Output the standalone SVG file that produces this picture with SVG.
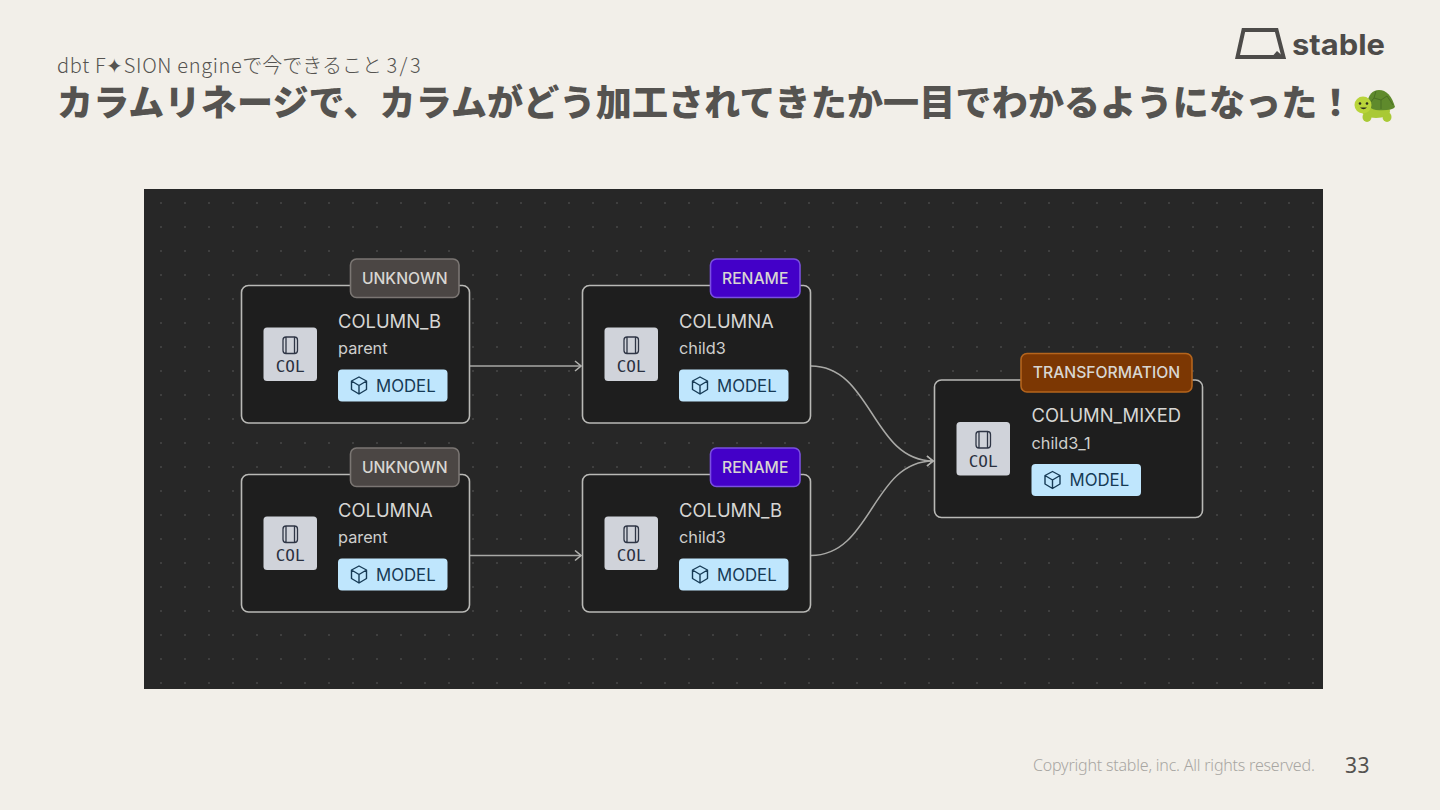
<svg xmlns="http://www.w3.org/2000/svg" width="1440" height="810" viewBox="0 0 1440 810">
<style>
text{font-family:"Inter","Noto Sans CJK JP",sans-serif}
.nb{fill:#1e1e1e;stroke:#b9b9b6;stroke-width:1.6}
.col{fill:#d0d3da}
.coltx{font-family:"DejaVu Sans Mono","Liberation Mono",monospace;font-size:16px;fill:#2a3040;text-anchor:middle}
.ic{fill:none;stroke:#2f3646;stroke-width:1.3}
.name{font-size:18.400px;fill:#d6d6d4}
.sub{font-size:16.300px;fill:#cfcfcd}
.mb{fill:#bfe6fd}
.mt{font-size:16.800px;fill:#163a55}
.mi{fill:none;stroke:#163a55;stroke-width:1.4;stroke-linejoin:round}
.tag{stroke-width:1.6}
.tt{font-size:15.700px;font-weight:500;text-anchor:middle;fill:#d8d6d2}
.e{fill:none;stroke:#a9a9a6;stroke-width:1.5}
</style>
<defs>
<pattern id="dots" x="0" y="0" width="24" height="24" patternUnits="userSpaceOnUse"><circle cx="17" cy="11" r="1" fill="#474747"/></pattern>
<marker id="ah" viewBox="0 0 12 12" refX="11" refY="6" markerWidth="12" markerHeight="12" markerUnits="userSpaceOnUse" orient="auto"><path d="M5 1 L11 6 L5 11" fill="none" stroke="#b0b0ad" stroke-width="1.5"/></marker>
<g id="chip">
<rect class="col" x="0" y="0" width="53.500" height="53.500" rx="3.500"/>
<path class="ic" d="M22.500 9.500 L31 9.500 L31 26 L22.500 26 Z M22.500 9.500 Q19.500 9.500 19.500 12.500 L19.500 23 Q19.500 26 22.500 26 M31 9.500 Q34 9.500 34 12.500 L34 23 Q34 26 31 26"/>
<text class="coltx" x="26.700" y="44.500">COL</text>
</g>
<g id="model">
<rect class="mb" x="0" y="0" width="109.500" height="32" rx="4"/>
<path class="mi" d="M21 7.500 L28.500 11.500 L28.500 20 L21 24.500 L13.500 20 L13.500 11.500 Z M13.500 11.500 L21 16 L28.500 11.500 M21 16 L21 24.500"/>
<text class="mt" x="38" y="22">MODEL</text>
</g>
</defs>
<rect width="1440" height="810" fill="#f2efe9"/>
<g id="header">
<text x="57" y="73" font-size="20px" fill="#555350" style="font-family:'Noto Sans CJK JP','Noto Sans',sans-serif;font-weight:300"><tspan letter-spacing="0.65">dbt F✦SION engine</tspan>で今できること <tspan letter-spacing="2.500">3/3</tspan></text>
<text x="57" y="116" font-size="36px" letter-spacing="0.2" fill="#555350" style="font-family:'Noto Sans CJK JP',sans-serif;font-weight:900">カラムリネージで、カラムがどう加工されてきたか一目でわかるようになった！</text>
</g>
<g id="turtle">
<ellipse cx="1386" cy="103" rx="5" ry="3" fill="#a9c935"/>
<ellipse cx="1367" cy="117" rx="4.500" ry="5" fill="#a9c935"/>
<ellipse cx="1387" cy="117" rx="4.500" ry="5" fill="#a9c935"/>
<ellipse cx="1376" cy="111" rx="14" ry="7" fill="#a9c935"/>
<path d="M1367 104 Q1369 90 1379 90 Q1390 90 1395 107 Q1392 111 1376 110 Q1370 109 1367 104Z" fill="#5f8a2c"/>
<path d="M1376 91 L1374 98 L1381 100 L1387 96 M1374 98 L1370 103 M1381 100 L1381 109 M1387 96 L1393 105" fill="none" stroke="#4a7024" stroke-width="1"/>
<circle cx="1363" cy="105" r="8.500" fill="#b9d43a"/>
<circle cx="1360" cy="103.500" r="1.300" fill="#2c2c20"/><circle cx="1367" cy="103.500" r="1.300" fill="#2c2c20"/>
<path d="M1360 107.500 Q1363.500 111 1367 107.500" fill="#2c2c20"/>
</g>
<g id="logo">
<path d="M1243.500 30 L1276.500 30 L1283.500 57 L1237.500 57 Z" fill="none" stroke="#4d4b49" stroke-width="4" stroke-linejoin="miter"/>
<path d="M1277 51 L1286 59 L1270 59 Z" fill="#4d4b49"/>
<text x="1292" y="55" style="font-family:Inter,sans-serif;font-weight:700" font-size="29px" fill="#4d4b49" textLength="93" lengthAdjust="spacingAndGlyphs">stable</text>
</g>
<g id="canvas">
<rect x="144" y="189" width="1179" height="500" fill="#272727"/>
<rect x="144" y="189" width="1179" height="500" fill="url(#dots)"/>
</g>
<g id="connectors">
<path class="e" d="M470 366 L581 366" marker-end="url(#ah)"/>
<path class="e" d="M470 555.500 L581 555.500" marker-end="url(#ah)"/>
<path class="e" d="M811 366 C872 366 872 461 933 461" marker-end="url(#ah)"/>
<path class="e" d="M811 555.500 C872 555.500 872 461 933 461" marker-end="url(#ah)"/>
</g>
<g id="node-unknown-b">
<rect class="nb" x="241.500" y="285.500" width="228" height="137.500" rx="7"/>
<use href="#chip" x="263.500" y="327.500"/>
<text class="name" x="338" y="327.500">COLUMN_B</text>
<text class="sub" x="338" y="354">parent</text>
<use href="#model" x="338" y="369.500"/>
<rect class="tag" x="350.500" y="259" width="108.500" height="38.500" rx="6" fill="#4b4644" stroke="#7b7673"/>
<text class="tt" x="404.700" y="283.500">UNKNOWN</text>
</g>
<g id="node-rename-a">
<rect class="nb" x="582.500" y="285.500" width="228" height="137.500" rx="7"/>
<use href="#chip" x="604.500" y="327.500"/>
<text class="name" x="679" y="327.500">COLUMNA</text>
<text class="sub" x="679" y="354">child3</text>
<use href="#model" x="679" y="369.500"/>
<rect class="tag" x="710.500" y="259" width="89.500" height="38.500" rx="6" fill="#4300c8" stroke="#7a4fe0"/>
<text class="tt" x="755.200" y="283.500">RENAME</text>
</g>
<g id="node-unknown-a">
<rect class="nb" x="241.500" y="474.500" width="228" height="137.500" rx="7"/>
<use href="#chip" x="263.500" y="516.500"/>
<text class="name" x="338" y="516.500">COLUMNA</text>
<text class="sub" x="338" y="543">parent</text>
<use href="#model" x="338" y="558.500"/>
<rect class="tag" x="350.500" y="448" width="108.500" height="38.500" rx="6" fill="#4b4644" stroke="#7b7673"/>
<text class="tt" x="404.700" y="472.500">UNKNOWN</text>
</g>
<g id="node-rename-b">
<rect class="nb" x="582.500" y="474.500" width="228" height="137.500" rx="7"/>
<use href="#chip" x="604.500" y="516.500"/>
<text class="name" x="679" y="516.500">COLUMN_B</text>
<text class="sub" x="679" y="543">child3</text>
<use href="#model" x="679" y="558.500"/>
<rect class="tag" x="710.500" y="448" width="89.500" height="38.500" rx="6" fill="#4300c8" stroke="#7a4fe0"/>
<text class="tt" x="755.200" y="472.500">RENAME</text>
</g>
<g id="node-transformation">
<rect class="nb" x="934.500" y="380" width="268" height="137.500" rx="7"/>
<use href="#chip" x="956.500" y="422"/>
<text class="name" x="1031.500" y="422">COLUMN_MIXED</text>
<text class="sub" x="1031.500" y="448.500">child3_1</text>
<use href="#model" x="1031.500" y="464"/>
<rect class="tag" x="1021" y="353.500" width="171" height="38.500" rx="6" fill="#7c3703" stroke="#b5651d"/>
<text class="tt" x="1106.500" y="378">TRANSFORMATION</text>
</g>
<g id="footer">
<text x="1033" y="771" font-size="16px" letter-spacing="-0.2" fill="#a8a6a2" style="font-family:'Noto Sans',sans-serif;font-weight:300">Copyright stable, inc. All rights reserved.</text>
<text x="1345" y="773" font-size="21px" letter-spacing="0.5" fill="#555350" style="font-family:'Noto Sans',sans-serif">33</text>
</g>
</svg>
